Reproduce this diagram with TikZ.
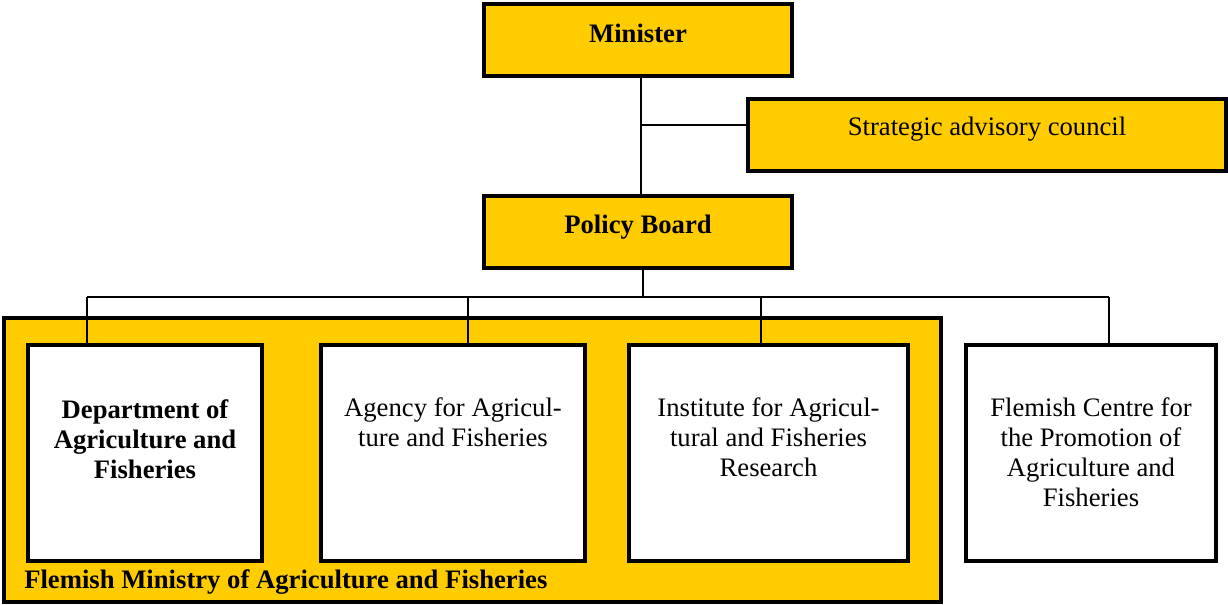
\documentclass[tikz,border=0pt]{standalone}
\usepackage{fontspec}
\setmainfont{Liberation Serif}
\definecolor{gold}{HTML}{FFCC00}
\begin{document}
\begin{tikzpicture}[x=0.75pt,y=-0.75pt,
  ybox/.style={draw=black,line width=2.4pt,fill=gold,inner sep=0pt},
  wbox/.style={draw=black,line width=2.4pt,fill=white,inner sep=0pt},
  conn/.style={draw=black,line width=1.7pt},
  txt/.style={inner sep=0pt,align=center,font=\fontsize{20}{22.5}\selectfont},
  btxt/.style={txt,font=\fontsize{20}{22.5}\selectfont\bfseries}]
\useasboundingbox (0,0) rectangle (1228,605);
% yellow boxes
\node[ybox,minimum width=231pt,minimum height=54pt] (minister) at (638,40) {};
\node[ybox,minimum width=358.5pt,minimum height=54pt] (council) at (987,135) {};
\node[ybox,minimum width=231pt,minimum height=54pt] (policy) at (638,232) {};
\node[ybox,minimum width=702.75pt,minimum height=213pt] (ministry) at (472.5,460) {};
% connectors
\coordinate (j1) at (641,125);
\draw[conn] (minister.south -| j1) -- (policy.north -| j1);
\draw[conn] (j1) -- (j1 -| council.west);
\coordinate (bus) at (643,297);
\coordinate (d1) at (87,297);
\coordinate (d2) at (468,297);
\coordinate (d3) at (761,297);
\coordinate (d4) at (1109,297);
\draw[conn] (policy.south -| bus) -- (bus);
\draw[conn] (d1) -- (d4);
% white boxes
\node[wbox,minimum width=175.5pt,minimum height=162pt] (dept) at (145,453) {};
\node[wbox,minimum width=198pt,minimum height=162pt] (agency) at (453,453) {};
\node[wbox,minimum width=209.25pt,minimum height=162pt] (inst) at (768.5,453) {};
\node[wbox,minimum width=187.5pt,minimum height=162pt] (centre) at (1091,453) {};
\draw[conn] (d1) -- (d1 |- dept.north);
\draw[conn] (d2) -- (d2 |- agency.north);
\draw[conn] (d3) -- (d3 |- inst.north);
\draw[conn] (d4) -- (d4 |- centre.north);
% texts
\node[btxt,anchor=base] (tminister) at (638,43) {Minister};
\node[txt,anchor=base] (tcouncil) at (987,136) {Strategic advisory council};
\node[btxt,anchor=base] (tpolicy) at (638,234) {Policy Board};
\node[btxt,anchor=north] (tdept) at (145,399) {Department of\\Agriculture and\\Fisheries};
\node[txt,anchor=north] (tagency) at (453,397) {Agency for Agricul-\\ture and Fisheries};
\node[txt,anchor=north] (tinst) at (768.5,397) {Institute for Agricul-\\tural and Fisheries\\Research};
\node[txt,anchor=north] (tcentre) at (1091,397) {Flemish Centre for\\the Promotion of\\Agriculture and\\Fisheries};
\node[btxt,anchor=base west] (tministry) at (24,588) {Flemish Ministry of Agriculture and Fisheries};
\end{tikzpicture}
\end{document}
